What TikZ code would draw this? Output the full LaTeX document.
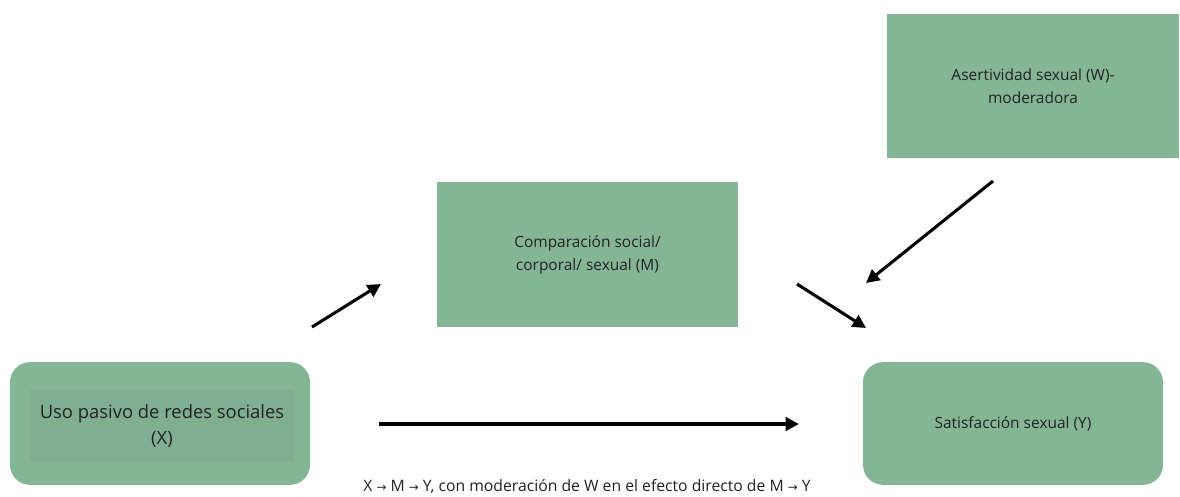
\documentclass[tikz,border=0pt]{standalone}
\usepackage{fontspec}
\setmainfont{Open Sans}
\newfontfamily\symfont{DejaVu Sans}
\usetikzlibrary{arrows.meta}
\definecolor{boxgreen}{HTML}{84B595}
\definecolor{innergreen}{HTML}{80AE91}
\definecolor{txt}{HTML}{222222}
\newcommand{\rarr}{{\symfont\scalebox{0.75}{→}}}
\tikzset{
  varbox/.style={fill=boxgreen,draw=none,align=center,text=txt,font=\fontsize{11.6}{17.3}\selectfont},
  roundbox/.style={varbox,rounded corners=15pt},
  path/.style={line width=2.3pt,-{Triangle[length=10pt,width=10pt]}}
}
\begin{document}
\begin{tikzpicture}[x=0.75pt,y=-0.75pt]
   \useasboundingbox (0,0) rectangle (1180,496);
   % variables
   \node[varbox,minimum width=219pt,minimum height=108pt] (w) at (1033,86)
     {Asertividad sexual (W)-\\moderadora};
   \node[varbox,minimum width=226pt,minimum height=109pt] (m) at (587.5,254.5)
     {Comparación social/\\corporal/ sexual (M)};
   \node[roundbox,minimum width=225pt,minimum height=92pt] (x) at (160,423.5) {};
   \node[fill=innergreen,minimum width=198pt,minimum height=54pt,align=center,
     text=txt,font=\fontsize{13.8}{19}\selectfont] (xin) at (162,426)
     {Uso pasivo de redes sociales\\(X)};
   \node[roundbox,minimum width=225pt,minimum height=92pt] (y) at (1013,423.5)
     {Satisfacción sexual (Y)};
   \node[text=txt,font=\fontsize{11.8}{12}\selectfont,inner sep=0pt,anchor=base] (cap) at (587,491)
     {X \rarr{} M \rarr{} Y, con moderación de W en el efecto directo de M \rarr{} Y};
   % arrows
   \coordinate (a1) at (312,327); \coordinate (b1) at (381,284);
   \coordinate (a2) at (797,284); \coordinate (b2) at (866,328);
   \coordinate (a3) at (993,181); \coordinate (b3) at (866,283);
   \coordinate (a4) at (379,424); \coordinate (b4) at (799,424);
   \draw[path] (a1) -- (b1);
   \draw[path] (a2) -- (b2);
   \draw[path] (a3) -- (b3);
   \draw[path] (a4) -- (b4);
\end{tikzpicture}
\end{document}
